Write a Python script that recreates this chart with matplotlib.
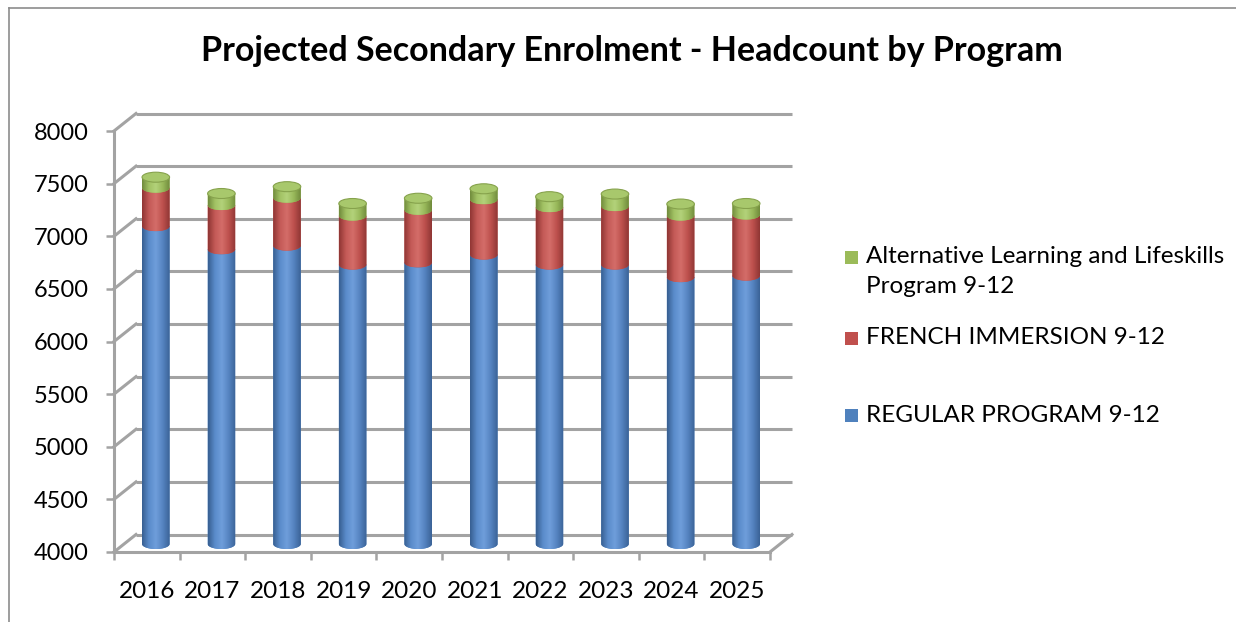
import numpy as np
import matplotlib
matplotlib.use("Agg")
import matplotlib.pyplot as plt
from matplotlib.path import Path
from matplotlib.patches import PathPatch, Ellipse, Rectangle
from matplotlib.colors import LinearSegmentedColormap
from matplotlib.lines import Line2D
import matplotlib.transforms as mtransforms

# ---------------- data ----------------
years = ["2016", "2017", "2018", "2019", "2020", "2021", "2022", "2023", "2024", "2025"]
regular = [7020, 6800, 6835, 6655, 6675, 6750, 6655, 6655, 6535, 6550]
french = [365, 420, 455, 465, 500, 525, 545, 555, 585, 580]
alternative = [100, 110, 105, 115, 110, 100, 100, 115, 110, 105]
series_names = ["REGULAR PROGRAM 9-12", "FRENCH IMMERSION 9-12",
                "Alternative Learning and Lifeskills\nProgram 9-12"]
y_ticks = [4000, 4500, 5000, 5500, 6000, 6500, 7000, 7500, 8000]
title = "Projected Secondary Enrolment - Headcount by Program"

colors = ["#4F81BD", "#C0504D", "#9BBB59"]
grad = [["#375f91", "#5a8ccb", "#6f9edb", "#5583c0", "#3a6296"],
        ["#8f3533", "#c45a57", "#d46d69", "#bd504d", "#8e3634"],
        ["#708a3c", "#a2c264", "#b3d27a", "#98b85a", "#6f8a3b"]]
cap_color = "#a8c86c"

FONT = "Lato"
W, H = 1236, 622
fig = plt.figure(figsize=(W / 100, H / 100), dpi=100)
fig.patch.set_facecolor("white")

ax_l, ax_r, ax_t, ax_b = 114, 770, 131, 552
ax = fig.add_axes([ax_l / W, (H - ax_b) / H, (ax_r - ax_l) / W, (ax_b - ax_t) / H])
ax.set_xlim(-0.5, len(years) - 0.5)
ax.set_ylim(y_ticks[0], y_ticks[-1])
ax.set_autoscale_on(False)
ax.set_facecolor("none")

grid_c = "#a3a3a3"
# pseudo-3D depth offsets (pixels)
back_dx, back_dy = 22, 17.5
mid_dx, mid_dy = 9, 8.0
back_tr = ax.transData + mtransforms.ScaledTranslation(back_dx / 100, back_dy / 100, fig.dpi_scale_trans)
mid_tr = ax.transData + mtransforms.ScaledTranslation(mid_dx / 100, mid_dy / 100, fig.dpi_scale_trans)

x0, x1 = ax.get_xlim()
# back-wall gridlines and left-wall diagonals
for v in y_ticks:
    ax.plot([x0, x1], [v, v], color=grid_c, lw=2.2, transform=back_tr, clip_on=False, zorder=1,
            solid_capstyle="butt")
    p0 = ax.transData.transform((x0, v))
    p1 = back_tr.transform((x0, v))
    ax.add_line(Line2D([p0[0], p1[0]], [p0[1], p1[1]], transform=None, color=grid_c, lw=2.2,
                       zorder=1, clip_on=False))
# floor right diagonal
p0 = ax.transData.transform((x1, y_ticks[0]))
p1 = back_tr.transform((x1, y_ticks[0]))
ax.add_line(Line2D([p0[0], p1[0]], [p0[1], p1[1]], transform=None, color=grid_c, lw=2.2,
                   zorder=1, clip_on=False))

# ---------------- cylinders ----------------
bar_w = 0.42
ell_h_px = 10
ell_h = ell_h_px / ((ax_b - ax_t) / (y_ticks[-1] - y_ticks[0]))


def segment_path(xc, y0, y1, a, b):
    th = np.linspace(np.pi, 2 * np.pi, 40)
    xs = list(xc + a * np.cos(th)) + [xc + a, xc - a, xc - a]
    ys = list(y0 + b * np.sin(th)) + [y1, y1, y0]
    return Path(np.column_stack([xs, ys]))


stack = [regular, french, alternative]
for i in range(len(years)):
    top_total = regular[i] + french[i] + alternative[i]
    cum = 0
    for s, vals in enumerate(stack):
        cum += vals[i]
        y0 = max(cum - vals[i], y_ticks[0])
        y1 = cum
        a = bar_w / 2
        b = ell_h / 2
        path = segment_path(i, y0, y1, a, b)
        patch = PathPatch(path, facecolor=colors[s], edgecolor="none", transform=mid_tr,
                          zorder=3 + s, clip_on=False)
        ax.add_patch(patch)
        cmap = LinearSegmentedColormap.from_list("g%d" % s, grad[s])
        im = ax.imshow(np.linspace(0, 1, 128).reshape(1, -1), cmap=cmap, aspect="auto",
                       extent=(i - a, i + a, y0 - b, y1), transform=mid_tr,
                       zorder=3 + s + 0.1, interpolation="bilinear")
        im.set_clip_path(patch)
        im.set_clip_box(None)
    # top cap
    cap = Ellipse((i, top_total), bar_w, ell_h, facecolor=cap_color, edgecolor="#86a24c",
                  lw=0.8, transform=mid_tr, zorder=7, clip_on=False)
    ax.add_patch(cap)

ax.set_xlim(-0.5, len(years) - 0.5)
ax.set_ylim(y_ticks[0], y_ticks[-1])

# ---------------- axes styling ----------------
for sp in ["top", "right"]:
    ax.spines[sp].set_visible(False)
for sp in ["left", "bottom"]:
    ax.spines[sp].set_color(grid_c)
    ax.spines[sp].set_linewidth(2.2)

ax.set_yticks(y_ticks)
ax.set_yticklabels([str(v) for v in y_ticks])
ax.set_xticks(range(len(years)))
ax.set_xticklabels(years)
ax.set_xticks(np.arange(-0.5, len(years)), minor=True)
ax.tick_params(axis="y", direction="out", length=6, width=1.8, color=grid_c,
               labelsize=17, pad=12)
ax.tick_params(axis="x", which="major", length=0, labelsize=17.5, pad=21)
ax.tick_params(axis="x", which="minor", direction="out", length=6, width=1.8, color=grid_c)
for lab in ax.get_xticklabels() + ax.get_yticklabels():
    lab.set_fontfamily(FONT)

# ---------------- title ----------------
fig.text(632 / W, 1 - 51 / H, title, ha="center", va="center", fontsize=24.5,
         fontweight="bold", fontfamily=FONT)

# ---------------- legend ----------------
leg_items = [(2, 257), (1, 338), (0, 415)]
for s, yc in leg_items:
    fig.patches.append(Rectangle((845 / W, 1 - (yc + 6.5) / H), 13 / W, 13 / H,
                                 transform=fig.transFigure, facecolor=colors[s],
                                 edgecolor="none"))
    if "\n" in series_names[s]:
        fig.text(866 / W, 1 - (yc - 11) / H, series_names[s], ha="left", va="top",
                 fontsize=17.5, fontfamily=FONT, linespacing=1.55)
    else:
        fig.text(866 / W, 1 - yc / H, series_names[s], ha="left", va="center",
                 fontsize=17.5, fontfamily=FONT)

# ---------------- outer frame ----------------
fig.add_artist(Line2D([9 / W, 9 / W], [0, 1 - 8 / H], transform=fig.transFigure,
                      color="#8c8c8c", lw=1.2))
fig.add_artist(Line2D([9 / W, 1], [1 - 8 / H, 1 - 8 / H], transform=fig.transFigure,
                      color="#8c8c8c", lw=1.2))

fig.savefig("out.png", dpi=100)
